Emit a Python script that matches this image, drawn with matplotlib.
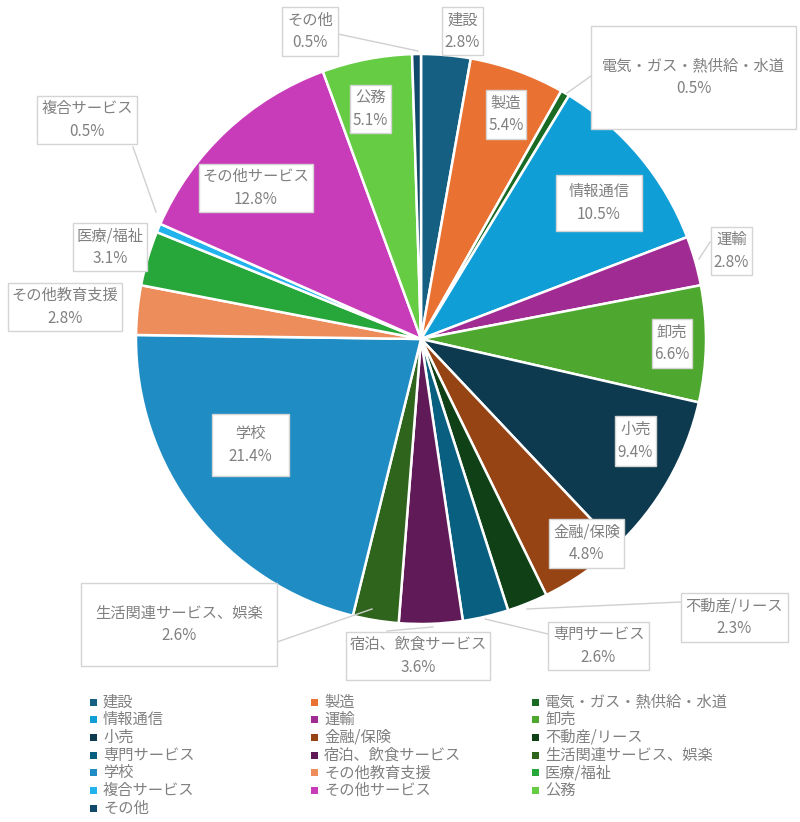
import matplotlib
matplotlib.use("Agg")
import matplotlib.pyplot as plt
from matplotlib.patches import Rectangle
from matplotlib.lines import Line2D

plt.rcParams['font.family'] = ['Noto Sans CJK JP', 'DejaVu Sans']

# ---- data ----
categories = ["建設", "製造", "電気・ガス・熱供給・水道", "情報通信", "運輸", "卸売",
              "小売", "金融/保険", "不動産/リース", "専門サービス", "宿泊、飲食サービス",
              "生活関連サービス、娯楽", "学校", "その他教育支援", "医療/福祉", "複合サービス",
              "その他サービス", "公務", "その他"]
shares = [2.8, 5.4, 0.5, 10.5, 2.8, 6.6,
          9.4, 4.8, 2.3, 2.6, 3.6,
          2.6, 21.4, 2.8, 3.1, 0.5,
          12.8, 5.1, 0.5]
colors = ["#156082", "#E97132", "#196B24", "#0F9ED5", "#A02B93", "#4EA72E",
          "#0D3A4F", "#964414", "#0F4016", "#095F80", "#601A58",
          "#2F641C", "#1F8CC4", "#ED8D5B", "#27A639", "#22B2EE",
          "#C83CB9", "#66CC44", "#11496A"]

# ---- layout (pixels, figure 800x822) ----
W, H = 800, 822
# label boxes: left, top, right, bottom
boxes = [(442, 7, 483, 55), (486, 90, 526, 139), (591, 26, 796, 129), (556, 175, 642, 231),
         (711, 227, 752, 275), (652, 319, 692, 368), (615, 416, 656, 466), (549, 519, 624, 568),
         (681, 593, 788, 642), (548, 622, 649, 670), (346, 632, 490, 680), (81, 583, 277, 666),
         (212, 414, 289, 476), (8, 283, 122, 331), (73, 223, 147, 271), (37, 96, 137, 144),
         (199, 164, 313, 212), (350, 85, 391, 133), (282, 7, 338, 56)]
leaders = {2: ((591, 76), (567, 93)), 4: ((710, 242), (699, 259)),
           8: ((681, 602), (527, 609)), 9: ((548, 634), (485, 619)),
           10: ((387, 631), (433, 627)), 11: ((277, 642), (372, 609)),
           15: ((133, 147), (156, 212)), 18: ((338, 34), (418, 51))}

cx, cy, r = 421, 339, 285

fig = plt.figure(figsize=(W / 100, H / 100), dpi=100)
ax = fig.add_axes([(cx - r) / W, 1 - (cy + r) / H, 2 * r / W, 2 * r / H])
ax.pie(shares, colors=colors, startangle=90, counterclock=False, radius=1,
       wedgeprops=dict(edgecolor="white", linewidth=1.8))
ax.set_xlim(-1, 1)
ax.set_ylim(-1, 1)
ax.axis("off")

def fx(x):
    return x / W

def fy(y):
    return 1 - y / H

text_color = "#808080"
for i, (a, b) in leaders.items():
    fig.add_artist(Line2D([fx(a[0]), fx(b[0])], [fy(a[1]), fy(b[1])],
                          transform=fig.transFigure, color="#D0D0D0", lw=1, zorder=3))

for name, v, (l, t, rr, bb) in zip(categories, shares, boxes):
    fig.add_artist(Rectangle((fx(l), fy(bb)), (rr - l) / W, (bb - t) / H,
                             transform=fig.transFigure, facecolor="white",
                             edgecolor="#D4D4D4", lw=1, zorder=4))
    fig.text(fx((l + rr) / 2), fy((t + bb) / 2), f"{name}\n{v:.1f}%",
             ha="center", va="center", fontsize=11, color=text_color,
             linespacing=1.45, zorder=5)

# ---- legend (row-major, 3 columns) ----
for i, (name, c) in enumerate(zip(categories, colors)):
    row, col = divmod(i, 3)
    x0 = 90 + 221 * col
    y0 = 702 + 17.7 * row
    fig.add_artist(Rectangle((fx(x0), fy(y0 + 3.5)), 7 / W, 7 / H,
                             transform=fig.transFigure, facecolor=c, edgecolor="none"))
    fig.text(fx(x0 + 13), fy(y0), name, ha="left", va="center",
             fontsize=11, color=text_color)

fig.savefig("out.png", dpi=100)
